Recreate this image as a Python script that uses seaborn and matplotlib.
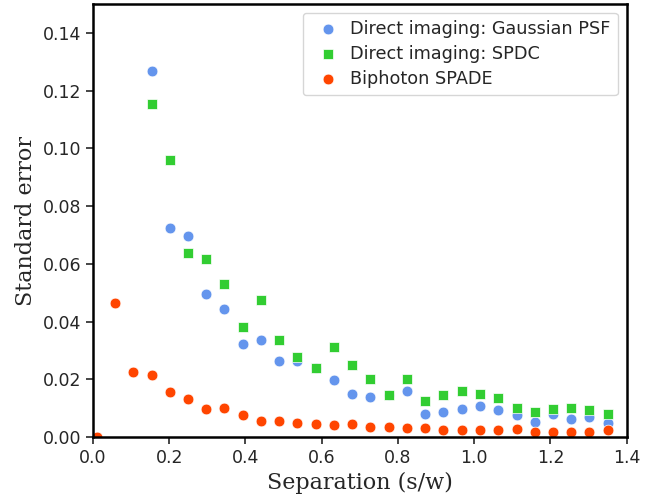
import pandas as pd
import seaborn as sns
import numpy as np
import matplotlib.pyplot as plt

sns.set_style('white')

# separation values (s/w)
sep = [0.010, 0.058, 0.106, 0.154, 0.201, 0.249, 0.297, 0.345, 0.393, 0.441,
       0.489, 0.536, 0.584, 0.632, 0.680, 0.728, 0.776, 0.824, 0.871, 0.919,
       0.967, 1.015, 1.063, 1.111, 1.159, 1.206, 1.254, 1.302, 1.350]

# direct imaging results start at the 4th separation
gauss_err = [0.1269, 0.0723, 0.0698, 0.0497, 0.0443, 0.0322, 0.0336, 0.0263,
             0.0263, 0.0240, 0.0197, 0.0149, 0.0140, 0.0145, 0.0159, 0.0079,
             0.0088, 0.0097, 0.0107, 0.0094, 0.0076, 0.0051, 0.0079, 0.0061,
             0.0070, 0.0047]
spdc_err = [0.1153, 0.0960, 0.0639, 0.0615, 0.0531, 0.0381, 0.0475, 0.0336,
            0.0278, 0.0240, 0.0311, 0.0248, 0.0200, 0.0146, 0.0200, 0.0124,
            0.0144, 0.0158, 0.0149, 0.0134, 0.0099, 0.0087, 0.0096, 0.0101,
            0.0095, 0.0079]
spade_err = [0.0000, 0.0463, 0.0224, 0.0214, 0.0155, 0.0132, 0.0096, 0.0099,
             0.0076, 0.0055, 0.0056, 0.0047, 0.0044, 0.0041, 0.0045, 0.0036,
             0.0035, 0.0031, 0.0031, 0.0025, 0.0025, 0.0024, 0.0023, 0.0027,
             0.0016, 0.0016, 0.0016, 0.0016, 0.0023]

df_gauss = pd.DataFrame({'sep': sep[-len(gauss_err):], 'err': gauss_err})
df_spdc = pd.DataFrame({'sep': sep[-len(spdc_err):], 'err': spdc_err})
df_spade = pd.DataFrame({'sep': sep, 'err': spade_err})

fig = plt.figure(figsize=(6.59, 5.0), dpi=100)
ax = fig.add_axes([0.141, 0.126, 0.810, 0.866])

sns.scatterplot(data=df_gauss, x='sep', y='err', color='cornflowerblue', marker='o',
                s=60, edgecolor='white', linewidth=0.5, label='Direct imaging: Gaussian PSF', ax=ax)
sns.scatterplot(data=df_spdc, x='sep', y='err', color='limegreen', marker='s',
                s=55, edgecolor='white', linewidth=0.5, label='Direct imaging: SPDC', ax=ax)
sns.scatterplot(data=df_spade, x='sep', y='err', color='orangered', marker='o',
                s=60, edgecolor='white', linewidth=0.5, label='Biphoton SPADE', ax=ax)

ax.set_xlim(0, 1.4)
ax.set_ylim(0, 0.15)
ax.set_xticks(np.arange(0, 1.41, 0.2))
ax.set_yticks(np.arange(0, 0.141, 0.02))
ax.set_xticklabels(['%.1f' % t for t in np.arange(0, 1.41, 0.2)])
ax.set_yticklabels(['%.2f' % t for t in np.arange(0, 0.141, 0.02)])
ax.tick_params(direction='out', length=5, width=1.2, labelsize=12.5, bottom=True, left=True)
for sp in ax.spines.values():
    sp.set_linewidth(1.8)
    sp.set_color('black')

ax.set_xlabel('Separation (s/w)', family='DejaVu Serif', fontsize=16)
ax.set_ylabel('Standard error', family='DejaVu Serif', fontsize=16)
ax.legend(loc='upper right', fontsize=12.7, frameon=True, handletextpad=0.3,
          labelspacing=0.4)

plt.savefig('out.png', dpi=100)
